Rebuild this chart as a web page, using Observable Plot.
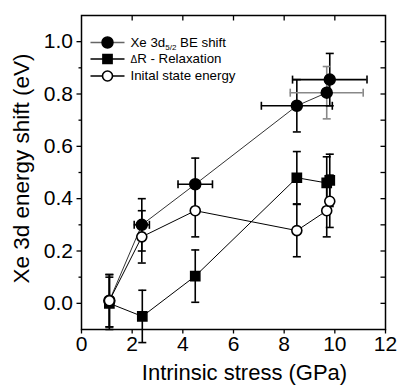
<!DOCTYPE html>
<html><head><meta charset="utf-8">
<script src="https://cdn.jsdelivr.net/npm/d3@7"></script>
<script src="https://cdn.jsdelivr.net/npm/@observablehq/plot@0.6"></script>
<style>body{margin:0;background:#fff} #chart{width:400px;height:386px}</style>
</head><body><div id="chart"></div>
<script>
// Series: Xe 3d5/2 BE shift (filled circles)
const stressBE = [1.1, 2.38, 4.49, 8.5, 9.68, 9.8];
const shiftBE = [0.01, 0.30, 0.455, 0.755, 0.805, 0.855];
const stressErrBE = [0, 0.3, 0.68, 1.4, 1.44, 1.47];
const shiftErrBE = [0.1, 0.1, 0.1, 0.1, 0.1, 0.1];
// Series: ΔR - Relaxation (filled squares)
const stressRelax = [1.1, 2.4, 4.49, 8.5, 9.68, 9.8];
const shiftRelax = [0.0, -0.05, 0.104, 0.48, 0.46, 0.47];
const shiftErrRelax = [0.1, 0.1, 0.1, 0.1, 0.1, 0.1];
// Series: Initial state energy (open circles)
const stressInit = [1.1, 2.38, 4.49, 8.5, 9.68, 9.8];
const shiftInit = [0.01, 0.254, 0.354, 0.278, 0.354, 0.39];
const shiftErrInit = [0.1, 0.1, 0.1, 0.1, 0.1, 0.1];

const xTicks = [0, 2, 4, 6, 8, 10, 12];
const yTicks = [0.0, 0.2, 0.4, 0.6, 0.8, 1.0];
const yMinorTicks = [0.1, 0.3, 0.5, 0.7, 0.9];
const yRightTicks = [0.0, 0.1, 0.2, 0.3, 0.4, 0.5, 0.6, 0.7, 0.8, 0.9, 1.0];
const xTopTicks = [2, 4, 6, 8, 10];
const legendLabels = ["Xe 3d5/2 BE shift", "ΔR - Relaxation", "Inital state energy"];
const xTitle = "Intrinsic stress (GPa)";
const yTitle = "Xe 3d energy shift (eV)";

const mk = (xs, ys, ye, xe) => xs.map((x, i) => ({x, y: ys[i], ye: ye[i], xe: xe ? xe[i] : 0, i}));
const be = mk(stressBE, shiftBE, shiftErrBE, stressErrBE);
const relax = mk(stressRelax, shiftRelax, shiftErrRelax);
const init = mk(stressInit, shiftInit, shiftErrInit);

// custom symbols
const capH = {draw(c) { c.moveTo(-4, 0); c.lineTo(4, 0); }};
const capV = {draw(c) { c.moveTo(0, -4); c.lineTo(0, 4); }};
const tickDown = {draw(c) { c.moveTo(0, 0); c.lineTo(0, 5); }};
const tickLeft = {draw(c) { c.moveTo(0, 0); c.lineTo(-5, 0); }};
const legLine = {draw(c) { c.moveTo(-17, 0); c.lineTo(17, 0); }};

const errColor = d => "black";
const beErrColor = d => d.i === 4 ? "#888" : "black";

function errMarks(data, colorFn) {
  return [
    Plot.ruleX(data, {x: "x", y1: d => d.y - d.ye, y2: d => d.y + d.ye, stroke: colorFn, strokeWidth: 1.6}),
    Plot.dot(data, {x: "x", y: d => d.y - d.ye, symbol: capH, r: 1, fill: "none", stroke: colorFn, strokeWidth: 1.6}),
    Plot.dot(data, {x: "x", y: d => d.y + d.ye, symbol: capH, r: 1, fill: "none", stroke: colorFn, strokeWidth: 1.6}),
  ];
}
function xErrMarks(data, colorFn) {
  const d2 = data.filter(d => d.xe > 0);
  return [
    Plot.ruleY(d2, {y: "y", x1: d => d.x - d.xe, x2: d => d.x + d.xe, stroke: colorFn, strokeWidth: 1.6}),
    Plot.dot(d2, {y: "y", x: d => d.x - d.xe, symbol: capV, r: 1, fill: "none", stroke: colorFn, strokeWidth: 1.6}),
    Plot.dot(d2, {y: "y", x: d => d.x + d.xe, symbol: capV, r: 1, fill: "none", stroke: colorFn, strokeWidth: 1.6}),
  ];
}

const legY = [27, 43.5, 60.5];
const legendMarks = [];
legendLabels.forEach((lab, i) => {
  legendMarks.push(Plot.dot([lab], {frameAnchor: "top-left", dx: 26, dy: legY[i], symbol: legLine, r: 1, fill: "none", stroke: i === 0 ? "#666" : "black", strokeWidth: 1.4}));
  if (i === 0) legendMarks.push(Plot.dot([lab], {frameAnchor: "top-left", dx: 26, dy: legY[i], symbol: "circle", r: 5.5, fill: "black", stroke: "black"}));
  if (i === 1) legendMarks.push(Plot.dot([lab], {frameAnchor: "top-left", dx: 26, dy: legY[i], symbol: "square", r: 5.2, fill: "black", stroke: "black"}));
  if (i === 2) legendMarks.push(Plot.dot([lab], {frameAnchor: "top-left", dx: 26, dy: legY[i], symbol: "circle", r: 5, fill: "white", stroke: "black", strokeWidth: 1.6}));
  legendMarks.push(Plot.text([lab], {frameAnchor: "top-left", dx: 49, dy: legY[i], text: d => d, textAnchor: "start", lineAnchor: "middle", fontSize: 13.3, fill: "black"}));
});

const chart = Plot.plot({
  width: 400, height: 386,
  marginLeft: 81, marginRight: 15, marginTop: 15, marginBottom: 57,
  x: {domain: [0, 12]},
  y: {domain: [-0.1, 1.1]},
  style: {fontFamily: "'Liberation Sans', Arial, Helvetica, sans-serif", background: "white", color: "black"},
  marks: [
    Plot.axisX(xTicks, {anchor: "bottom", tickSize: 4.5, tickPadding: 2, fontSize: 21, label: null, tickFormat: d3.format("d"), strokeWidth: 1.3}),
    Plot.axisY(yTicks, {anchor: "left", tickSize: 4.5, tickPadding: 4, fontSize: 21, label: null, tickFormat: d3.format(".1f"), strokeWidth: 1.3}),
    Plot.axisY(yMinorTicks, {anchor: "left", tickSize: 2.5, label: null, tickFormat: () => "", strokeWidth: 1.3}),
    Plot.dot(xTopTicks, {x: d => d, frameAnchor: "top", symbol: tickDown, r: 1, fill: "none", stroke: "black", strokeWidth: 1.3}),
    Plot.dot(yRightTicks, {y: d => d, frameAnchor: "right", symbol: tickLeft, r: 1, fill: "none", stroke: "black", strokeWidth: 1.3}),
    Plot.frame({stroke: "black", strokeWidth: 1.5}),
    Plot.text([xTitle], {frameAnchor: "bottom", dx: 11, dy: 43.5, text: d => d, fontSize: 22, textAnchor: "middle", lineAnchor: "middle", fill: "black"}),
    Plot.text([yTitle], {frameAnchor: "left", dx: -60, dy: -4, rotate: -90, text: d => d, fontSize: 22.5, textAnchor: "middle", lineAnchor: "middle", fill: "black"}),
    ...errMarks(be, beErrColor),
    ...xErrMarks(be, beErrColor),
    ...errMarks(relax, errColor),
    ...errMarks(init, errColor),
    Plot.line(be, {x: "x", y: "y", stroke: "#333", strokeWidth: 1}),
    Plot.line(relax, {x: "x", y: "y", stroke: "black", strokeWidth: 1}),
    Plot.line(init, {x: "x", y: "y", stroke: "black", strokeWidth: 1}),
    Plot.dot(be, {x: "x", y: "y", symbol: "circle", r: 5.5, fill: "black", stroke: "black"}),
    Plot.dot(relax, {x: "x", y: "y", symbol: "square", r: 5.2, fill: "black", stroke: "black"}),
    Plot.dot(init, {x: "x", y: "y", symbol: "circle", r: 5, fill: "white", stroke: "black", strokeWidth: 1.6}),
    ...legendMarks
  ]
});
document.getElementById("chart").appendChild(chart);

// subscript for the first legend label, small delta for the second
d3.select(chart).selectAll("text").each(function() {
  if (this.textContent === legendLabels[0]) {
    const t = d3.select(this);
    t.text(null);
    t.append("tspan").text("Xe 3d");
    t.append("tspan").attr("font-size", 8).attr("dy", 3).text("5/2");
    t.append("tspan").attr("dy", -3).text(" BE shift");
  }
  if (this.textContent === legendLabels[1]) {
    const t = d3.select(this);
    t.text(null);
    t.append("tspan").attr("font-size", 10).text("Δ");
    t.append("tspan").text("R - Relaxation");
  }
});
</script>
</body></html>
